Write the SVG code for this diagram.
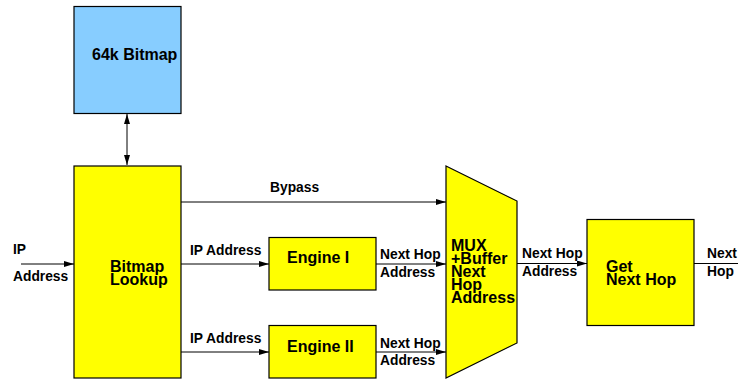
<svg xmlns="http://www.w3.org/2000/svg" width="738" height="379" viewBox="0 0 738 379">
<style>
.box{fill:#ffff00;stroke:#000;stroke-width:1.2}
.blue{fill:#87cdff;stroke:#000;stroke-width:1.2}
.t{font-family:"Liberation Sans",Arial,sans-serif;font-weight:bold;font-size:16px;fill:#000}
.s{font-family:"Liberation Sans",Arial,sans-serif;font-weight:bold;font-size:13.8px;fill:#000}
.c{stroke:#000;stroke-width:1;fill:none}
</style>
<defs>
<marker id="ah" markerWidth="10" markerHeight="6" refX="10" refY="3" orient="auto" markerUnits="userSpaceOnUse">
<path d="M0,0 L10,3 L0,6 Z" fill="#000"/>
</marker>
<marker id="as" markerWidth="10" markerHeight="6" refX="0" refY="3" orient="auto" markerUnits="userSpaceOnUse">
<path d="M10,0 L0,3 L10,6 Z" fill="#000"/>
</marker>
</defs>
<g id="connectors">
<line class="c" x1="127" y1="114" x2="127" y2="165" marker-start="url(#as)" marker-end="url(#ah)"/>
<line class="c" x1="21" y1="264" x2="74" y2="264" marker-end="url(#ah)"/>
<line class="c" x1="181" y1="202" x2="446" y2="202" marker-end="url(#ah)"/>
<line class="c" x1="181" y1="264" x2="269" y2="264" marker-end="url(#ah)"/>
<line class="c" x1="181" y1="352" x2="269" y2="352" marker-end="url(#ah)"/>
<line class="c" x1="376" y1="264" x2="446" y2="264" marker-end="url(#ah)"/>
<line class="c" x1="376" y1="352" x2="446" y2="352" marker-end="url(#ah)"/>
<line class="c" x1="517" y1="263.5" x2="587" y2="263.5" marker-end="url(#ah)"/>
<line class="c" x1="694" y1="263.5" x2="748" y2="263.5" marker-end="url(#ah)"/>
<text class="s" x="13" y="254">IP</text>
<text class="s" x="13" y="281">Address</text>
<text class="s" x="270" y="192">Bypass</text>
<text class="s" x="190" y="255">IP Address</text>
<text class="s" x="190" y="343">IP Address</text>
<text class="s" x="380" y="259">Next Hop</text>
<text class="s" x="380" y="277">Address</text>
<text class="s" x="380" y="348">Next Hop</text>
<text class="s" x="380" y="365">Address</text>
<text class="s" x="522" y="258">Next Hop</text>
<text class="s" x="522" y="276">Address</text>
<text class="s" x="707" y="258">Next</text>
<text class="s" x="707" y="276">Hop</text>
</g>
<g id="bitmap64k">
<rect class="blue" x="74" y="6.5" width="107" height="107"/>
<text class="t" x="92" y="60">64k Bitmap</text>
</g>
<g id="bitmapLookup">
<rect class="box" x="74" y="166" width="107" height="212"/>
<text class="t" x="110" y="272">Bitmap</text>
<text class="t" x="110" y="285">Lookup</text>
</g>
<g id="engine1">
<rect class="box" x="269" y="237.5" width="107" height="52.5"/>
<text class="t" x="287" y="263">Engine I</text>
</g>
<g id="engine2">
<rect class="box" x="269" y="325.5" width="107" height="52.5"/>
<text class="t" x="287" y="352">Engine II</text>
</g>
<g id="mux">
<polygon class="box" points="446,166 517,201 517,343 446,378"/>
<text class="t" x="451" y="251">MUX</text>
<text class="t" x="451" y="264">+Buffer</text>
<text class="t" x="451" y="277">Next</text>
<text class="t" x="451" y="290">Hop</text>
<text class="t" x="451" y="303">Address</text>
</g>
<g id="getNextHop">
<rect class="box" x="587" y="219.5" width="107" height="106"/>
<text class="t" x="606" y="272">Get</text>
<text class="t" x="606" y="285">Next Hop</text>
</g>
</svg>
